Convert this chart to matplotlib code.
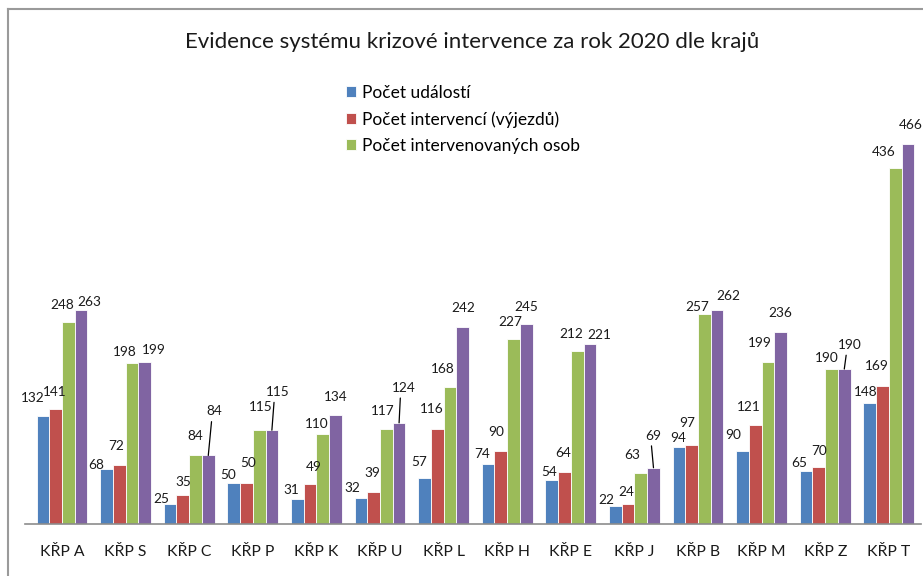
import matplotlib
matplotlib.use("Agg")
import matplotlib.pyplot as plt
from matplotlib.lines import Line2D
import numpy as np

plt.rcParams['font.family'] = ['Lato', 'DejaVu Sans']

# ---- data ----
categories = ["KŘP A", "KŘP S", "KŘP C", "KŘP P", "KŘP K", "KŘP U", "KŘP L",
              "KŘP H", "KŘP E", "KŘP J", "KŘP B", "KŘP M", "KŘP Z", "KŘP T"]
udalosti = [132, 68, 25, 50, 31, 32, 57, 74, 54, 22, 94, 90, 65, 148]
intervence = [141, 72, 35, 50, 49, 39, 116, 90, 64, 24, 97, 121, 70, 169]
osoby = [248, 198, 84, 115, 110, 117, 168, 227, 212, 63, 257, 199, 190, 436]
ctvrta = [263, 199, 84, 115, 134, 124, 242, 245, 221, 69, 262, 236, 190, 466]
series_names = ["Počet událostí", "Počet intervencí (výjezdů)",
                "Počet intervenovaných osob", None]
title = "Evidence systému krizové intervence za rok 2020 dle krajů"

# ---- style / layout ----
colors = ["#4F81BD", "#C0504D", "#9BBB59", "#8064A2"]
# label offsets (dx, dy) in pixels relative to bar top center, per series
label_offsets = [
    [(-10, 18), (-10, 4), (-9, 5), (-6, 8), (-6, 9), (-9, 10), (-5, 16),
     (-6, 10), (-3, 8), (-9, 6), (-1, 9), (-9, 16), (-7, 8), (-4, 11)],
    [(-1, 17), (-3, 19), (0, 13), (2, 20), (4, 17), (-1, 19), (-5, 20),
     (-5, 19), (-1, 19), (-2, 12), (-4, 22), (-6, 18), (0, 16), (-6, 20)],
    [(-6, 17), (-7, 11), (0, 19), (2, 23), (-6, 10), (-4, 18), (-7, 18),
     (-3, 17), (-6, 17), (-9, 18), (-7, 7), (-8, 19), (-5, 11), (-11, 16)],
    [(8, 8), (9, 12), (6, 44), (6, 38), (0, 18), (5, 35), (1, 19),
     (0, 17), (9, 9), (0, 32), (11, 14), (0, 19), (6, 24), (3, 19)],
]
leaders = {(3, 2), (3, 3), (3, 5), (3, 9), (3, 12)}

W, H = 923, 576
fig = plt.figure(figsize=(W / 100, H / 100), dpi=100)
fig.patch.set_facecolor("white")

ax_left, ax_right = 25, 921
ax_bottom, ax_top = 524, 100
ax = fig.add_axes([ax_left / W, (H - ax_bottom) / H,
                   (ax_right - ax_left) / W, (ax_bottom - ax_top) / H])

x = np.arange(len(categories))
bw = 0.2
all_series = [udalosti, intervence, osoby, ctvrta]
handles = []
for k, vals in enumerate(all_series):
    xs = x + (k - 1.5) * bw
    bars = ax.bar(xs, vals, width=bw, color=colors[k], edgecolor="white",
                  linewidth=0.6, zorder=2)
    handles.append(bars)
    for i, v in enumerate(vals):
        dx, dy = label_offsets[k][i]
        kw = {}
        if (k, i) in leaders:
            kw["arrowprops"] = dict(arrowstyle="-", color="black", lw=0.9,
                                    shrinkA=1, shrinkB=0, relpos=(0.35, 0.0))
        ax.annotate(str(v), xy=(xs[i], v), xytext=(dx, dy),
                    textcoords="offset pixels", ha="center", va="center",
                    fontsize=9.8, color="#1a1a1a", **kw)

ax.set_xlim((ax_left - 62) / 63.6, (ax_right - 62) / 63.6)
ax.set_ylim(0, (ax_bottom - ax_top) / 0.8155)
ax.set_xticks(x)
ax.set_xticklabels(categories, fontsize=11.3, color="#1a1a1a")
ax.tick_params(axis="x", length=0, pad=15)
ax.set_yticks([])
for s in ["top", "right", "left"]:
    ax.spines[s].set_visible(False)
ax.spines["bottom"].set_color("#8c8c8c")
ax.spines["bottom"].set_linewidth(1.2)
ax.patch.set_alpha(0)

# title
fig.text(472 / W, 1 - 42 / H, title, ha="center", va="center", fontsize=16,
         color="#1a1a1a")

# legend
fig.legend(handles[:3], series_names[:3], loc="upper left",
           bbox_to_anchor=(346 / W, 1 - 85 / H), frameon=False, fontsize=12.5,
           handlelength=0.6, handleheight=0.6, handletextpad=0.35,
           labelspacing=0.58, borderaxespad=0, borderpad=0)

# outer frame (left and top)
fig.add_artist(Line2D([8 / W, 8 / W], [0, 1 - 9 / H], color="#9a9a9a", lw=1.5,
                      transform=fig.transFigure))
fig.add_artist(Line2D([8 / W, 1], [1 - 9 / H, 1 - 9 / H], color="#9a9a9a",
                      lw=1.5, transform=fig.transFigure))

fig.savefig("out.png", dpi=100, facecolor="white")
